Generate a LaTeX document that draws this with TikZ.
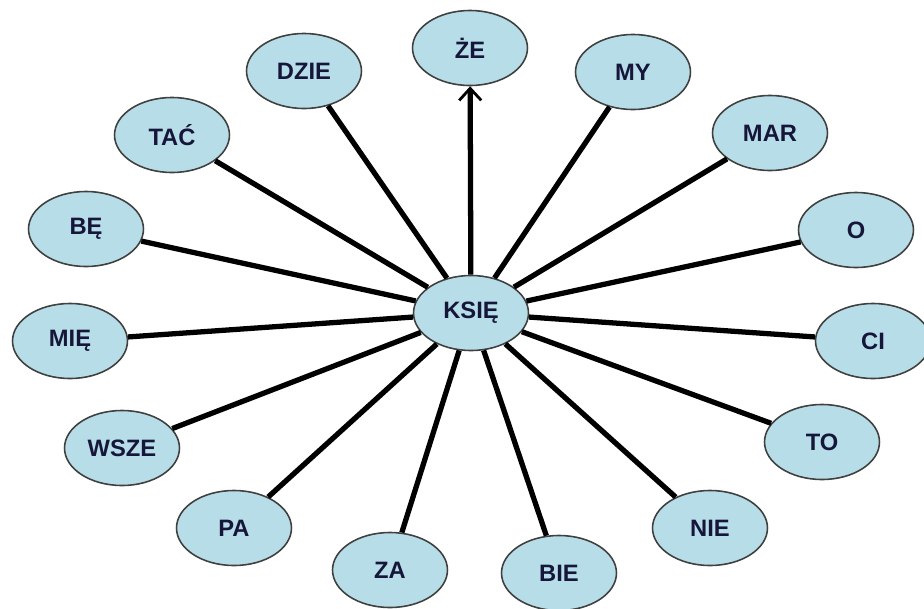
\documentclass[tikz,border=0pt]{standalone}
\usepackage{fontspec}
\setmainfont{Liberation Sans}
\usetikzlibrary{shapes.geometric,arrows.meta}

\definecolor{sylfill}{HTML}{B7DEE8}
\definecolor{syltext}{HTML}{16163A}

\tikzset{
    syl/.style={ellipse, draw=black!75, line width=0.9pt, fill=sylfill, minimum width=2.3cm, minimum height=1.5cm,
        inner sep=0pt, font=\fontsize{13.5}{15}\selectfont\bfseries, text=syltext},
    spoke/.style={line width=3pt, black}
}

\begin{document}
\begin{tikzpicture}[x=0.02cm, y=-0.02cm]
    % Fix the page to the size of the reference
    \useasboundingbox (0,0) rectangle (924,609);

    % The word in the middle
    \node[syl] (ksie) at (471,313) {KSIĘ};

    % The syllable on top, reached by the arrow
    \node[syl] (ze) at (470,48) {ŻE};
    \draw[spoke, -{Straight Barb[length=2.4mm, width=4.4mm, line width=1.6pt]}] (ksie) -- (ze);

    % The other syllables around it, each joined to the middle
    \foreach \name/\x/\y/\txt in {dzie/304/71/DZIE, my/633/72/MY, tac/172/135/TAĆ, mar/770/133/MAR,
        be/86/229/BĘ, o/856/230/O, mie/70/341/MIĘ, ci/873/341/CI,
        wsze/122/448/WSZE, to/822/442/TO, pa/234/528/PA, nie/710/528/NIE,
        za/390/570/ZA, bie/559/573/BIE} {
        \node[syl] (\name) at (\x,\y) {\txt};
        \draw[spoke] (ksie) -- (\name);
    }
\end{tikzpicture}
\end{document}
